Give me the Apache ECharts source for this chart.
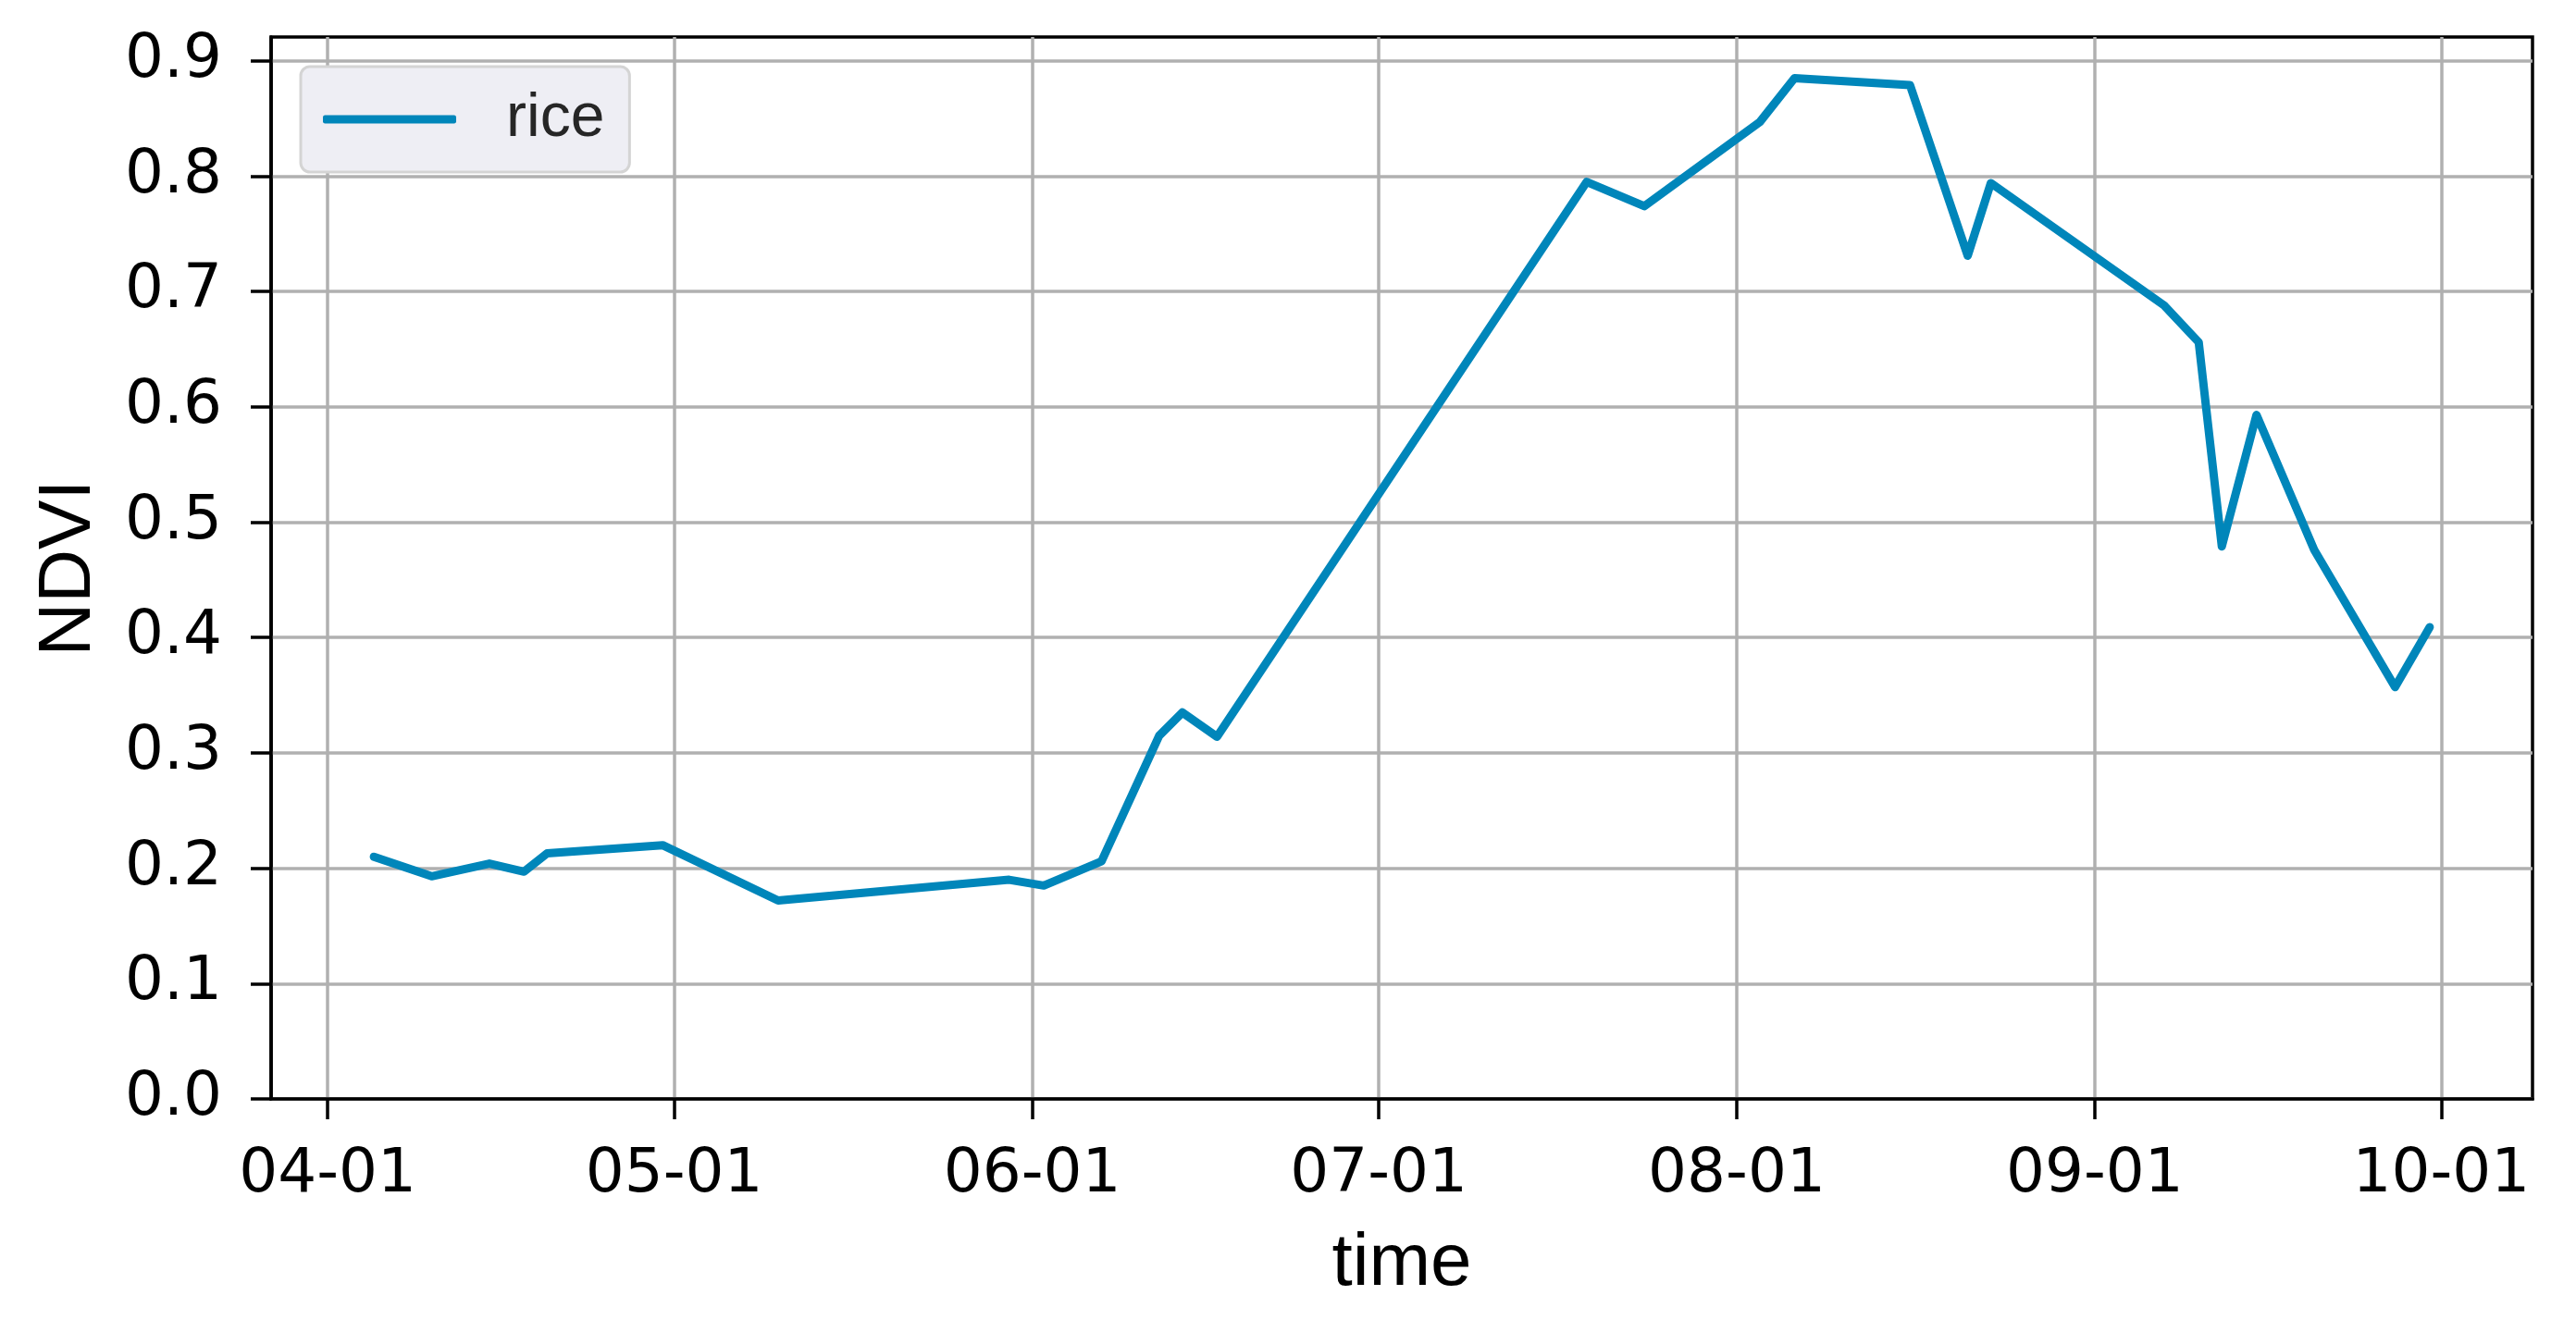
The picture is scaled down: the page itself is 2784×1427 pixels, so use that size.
<!DOCTYPE html>
<html>
<head>
<meta charset="utf-8">
<title>rice NDVI</title>
<script src="https://cdn.jsdelivr.net/npm/echarts@6/dist/echarts.min.js"></script>
<style>
  html, body { margin: 0; padding: 0; background: #fff; }
  #chart { width: 2784px; height: 1427px; }
</style>
</head>
<body>
<div id="chart"></div>
<script>
const year = 2020
const dates = ['04-05', '04-10', '04-15', '04-18', '04-20', '04-30', '05-10', '05-30', '06-02',
  '06-07', '06-12', '06-14', '06-17', '07-19', '07-24', '08-03', '08-06', '08-16',
  '08-21', '08-23', '09-07', '09-10', '09-12', '09-15', '09-20', '09-27', '09-30']
const riceNdvi = [0.210, 0.193, 0.204, 0.197, 0.213, 0.220, 0.172, 0.190, 0.185,
  0.206, 0.315, 0.335, 0.314, 0.795, 0.774, 0.847, 0.885, 0.879,
  0.731, 0.794, 0.688, 0.656, 0.479, 0.593, 0.476, 0.357, 0.409]
const monthTicks = ['04-01', '05-01', '06-01', '07-01', '08-01', '09-01', '10-01']
const yTicks = [0, 0.1, 0.2, 0.3, 0.4, 0.5, 0.6, 0.7, 0.8, 0.9]

const toTime = (md) => {
  const [m, d] = md.split('-').map(Number)
  return new Date(year, m - 1, d).getTime()
}
const fmtDate = (t) => {
  const d = new Date(t)
  return String(d.getMonth() + 1).padStart(2, '0') + '-' + String(d.getDate()).padStart(2, '0')
}

const times = dates.map(toTime)
const seriesData = times.map((t, i) => [t, riceNdvi[i]])
const xTickValues = monthTicks.map(toTime)

// matplotlib-like 5% margins
const tMin = Math.min(...times)
const tMax = Math.max(...times)
const tPad = (tMax - tMin) * 0.05
const vMin = Math.min(...riceNdvi)
const vMax = Math.max(...riceNdvi)
const yTop = vMax + (vMax - vMin) * 0.05

const tickFont = 'DejaVu Sans'
const labelFont = 'Liberation Sans'

const chart = echarts.init(document.getElementById('chart'), null, { renderer: 'canvas', devicePixelRatio: 1 })
const option = {
  backgroundColor: '#ffffff',
  animation: false,
  grid: {
    left: 293,
    right: 47,
    top: 40,
    bottom: 239,
    show: true,
    borderColor: '#000000',
    borderWidth: 3.5,
    backgroundColor: 'transparent'
  },
  legend: {
    left: 325,
    top: 72,
    orient: 'vertical',
    padding: [24, 27, 24, 24],
    backgroundColor: '#eeeef4',
    borderColor: '#d4d4d4',
    borderWidth: 3,
    borderRadius: 10,
    itemWidth: 144,
    itemHeight: 9,
    icon: 'roundRect',
    textStyle: {
      fontFamily: labelFont,
      fontSize: 66,
      lineHeight: 66,
      color: '#262626',
      padding: [0, 0, 0, 49]
    },
    data: ['rice']
  },
  xAxis: {
    type: 'value',
    min: tMin - tPad,
    max: tMax + tPad,
    name: 'time',
    nameLocation: 'middle',
    nameGap: 139,
    nameTextStyle: { fontFamily: labelFont, fontSize: 80, color: '#000' },
    axisLine: { show: true, onZero: false, lineStyle: { color: '#000', width: 3.5 } },
    axisTick: {
      show: true,
      length: 22,
      lineStyle: { color: '#000', width: 3.5 },
      customValues: xTickValues
    },
    axisLabel: {
      customValues: xTickValues,
      margin: 50,
      fontFamily: tickFont,
      fontSize: 66,
      lineHeight: 66,
      color: '#000',
      formatter: fmtDate
    },
    splitLine: { show: true, lineStyle: { color: '#b0b0b0', width: 3.5 } }
  },
  yAxis: {
    type: 'value',
    min: 0,
    max: yTop,
    interval: 0.1,
    name: 'NDVI',
    nameLocation: 'middle',
    nameGap: 178,
    nameRotate: 90,
    nameTextStyle: { fontFamily: labelFont, fontSize: 80, color: '#000' },
    axisLine: { show: true, lineStyle: { color: '#000', width: 3.5 } },
    axisTick: {
      show: true,
      length: 22,
      lineStyle: { color: '#000', width: 3.5 },
      customValues: yTicks
    },
    axisLabel: {
      customValues: yTicks,
      margin: 53,
      fontFamily: tickFont,
      fontSize: 66,
      color: '#000',
      formatter: (v) => v.toFixed(1)
    },
    splitLine: { show: true, lineStyle: { color: '#b0b0b0', width: 3.5 } }
  },
  series: [
    {
      name: 'rice',
      type: 'line',
      data: seriesData,
      showSymbol: false,
      symbol: 'none',
      color: '#0086ba',
      lineStyle: { color: '#0086ba', width: 9, join: 'round', cap: 'round' },
      z: 3
    }
  ]
}
chart.setOption(option)
window.addEventListener('resize', () => {
  chart.resize()
})
</script>
</body>
</html>
